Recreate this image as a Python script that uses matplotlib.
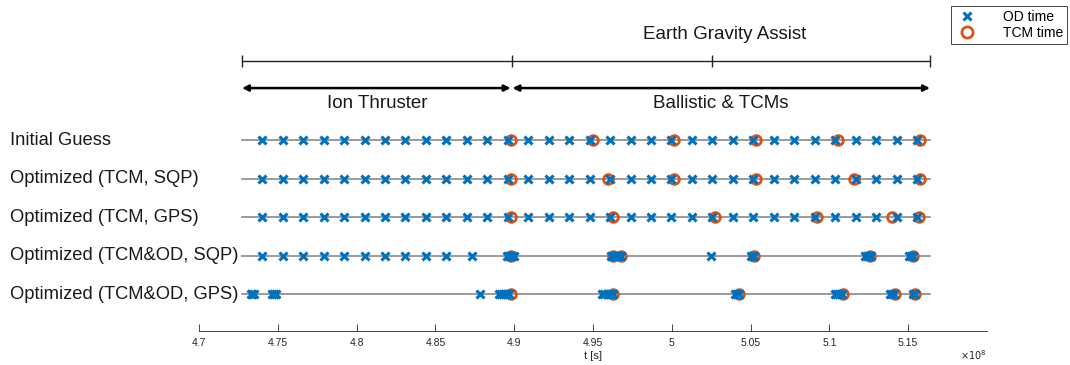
import matplotlib.pyplot as plt
from matplotlib.transforms import blended_transform_factory

plt.rcParams['font.family'] = ['Liberation Sans', 'DejaVu Sans']

# all epochs in units of 1e8 s
rows = ['Initial Guess', 'Optimized (TCM, SQP)', 'Optimized (TCM, GPS)',
        'Optimized (TCM&OD, SQP)', 'Optimized (TCM&OD, GPS)']

t_start = 4.7273
t_switch = 4.8989   # end of ion thrusting
t_swingby = 5.0255  # Earth gravity assist
t_end = 5.1638

# regular 15-day OD schedule
od_regular = [4.7402, 4.7531, 4.7661, 4.7791, 4.7921, 4.8051, 4.8181, 4.8310,
              4.8440, 4.8570, 4.8700, 4.8830, 4.8960, 4.9089, 4.9219, 4.9349,
              4.9479, 4.9609, 4.9738, 4.9868, 4.9998, 5.0128, 5.0258, 5.0388,
              5.0517, 5.0647, 5.0777, 5.0907, 5.1037, 5.1166, 5.1296, 5.1426,
              5.1556]
od_sqp = [4.7402, 4.7531, 4.7661, 4.7791, 4.7921, 4.8051, 4.8181, 4.8310,
          4.8440, 4.8570, 4.8734, 4.8955, 4.8966, 4.8977, 4.8988, 4.8998,
          4.9615, 4.9628, 4.9641, 4.9654, 4.9667, 4.9680, 5.0249, 5.0503,
          5.0513, 5.0524, 5.1228, 5.1240, 5.1252, 5.1264, 5.1504, 5.1516,
          5.1528]
od_gps = [4.7327, 4.7339, 4.7352, 4.7463, 4.7476, 4.7489, 4.8783, 4.8905,
          4.8918, 4.8931, 4.8944, 4.8957, 4.8970, 4.9560, 4.9573, 4.9586,
          4.9599, 4.9612, 4.9625, 5.0404, 5.0416, 5.0427, 5.1038, 5.1051,
          5.1064, 5.1077, 5.1385, 5.1398, 5.1411, 5.1528, 5.1541]
od_times = [od_regular, od_regular, od_regular, od_sqp, od_gps]

tcm_times = [
    [4.8980, 4.9498, 5.0014, 5.0534, 5.1056, 5.1575],
    [4.8980, 4.9597, 5.0014, 5.0534, 5.1156, 5.1575],
    [4.8980, 4.9625, 5.0274, 5.0923, 5.1395, 5.1570],
    [4.8980, 4.9625, 4.9678, 5.0522, 5.1258, 5.1532],
    [4.8980, 4.9629, 5.0428, 5.1084, 5.1416, 5.1543],
]

xticks = [4.7, 4.75, 4.8, 4.85, 4.9, 4.95, 5.0, 5.05, 5.1, 5.15]

blue = '#0072BD'
orange = '#D95319'

fig = plt.figure(figsize=(10.7, 3.65), dpi=100)
ax = fig.add_axes([0.186, 0.0932, 0.7364, 0.8438])

handles = []
n = len(rows)
row_y = [n - i - 0.05 for i in range(n)]
for i, name in enumerate(rows):
    y = row_y[i]
    ax.plot([t_start, t_end], [y, y], color='#8a8a8a', lw=1.2, zorder=1)
    h_tcm, = ax.plot(tcm_times[i], [y] * len(tcm_times[i]), 'o', ms=7,
                     mfc='none', mec=orange, mew=2, zorder=2)
    h_od, = ax.plot(od_times[i], [y] * len(od_times[i]), 'x', ms=5.5,
                    mec=blue, mew=2.2, zorder=3)
    if i == 0:
        handles = [h_od, h_tcm]

# row names on the left edge of the figure
trans = blended_transform_factory(fig.transFigure, ax.transData)
for i, name in enumerate(rows):
    ax.text(10 / 1070, row_y[i], name, transform=trans, ha='left',
            va='center', fontsize=13.2, color='#1a1a1a', clip_on=False)

# mission phases
ybar = 7.0
ax.plot([t_start, t_end], [ybar, ybar], color='#222222', lw=1)
ax.plot([t_start, t_switch, t_swingby, t_end], [ybar] * 4, '|', color='#222222',
        ms=9, mew=1)
ax.text((t_start + t_end) / 2 + 0.088, 7.69, 'Earth Gravity Assist',
        ha='center', va='center', fontsize=13.5, color='#1a1a1a')

yarr = 6.31
for a, b in [(t_start, t_switch - 0.0012), (t_switch, t_end)]:
    ax.annotate('', xy=(b, yarr), xytext=(a, yarr),
                arrowprops=dict(arrowstyle='<|-|>', color='black', lw=1.8,
                                mutation_scale=9, shrinkA=0, shrinkB=0))
ax.text((t_start + t_switch) / 2, 5.9, 'Ion Thruster', ha='center', va='center',
        fontsize=13.5, color='#1a1a1a')
ax.text((t_switch + t_end) / 2, 5.9, 'Ballistic & TCMs', ha='center',
        va='center', fontsize=13.5, color='#1a1a1a')

ax.set_xlim(4.7, 5.2)
ax.set_ylim(0, 8)
ax.set_xticks(xticks)
ax.set_xticklabels(['%g' % t for t in xticks], fontsize=7.5, color='#262626')
ax.tick_params(axis='x', direction='in', length=5, width=0.6, color='#262626',
               pad=5)
ax.set_yticks([])
for s in ['top', 'left', 'right']:
    ax.spines[s].set_visible(False)
ax.spines['bottom'].set_color('#262626')
ax.spines['bottom'].set_linewidth(0.6)
ax.set_xlabel('t [s]', fontsize=8, color='#262626', labelpad=2)
ax.text(1.0, -0.078, r'$\times10^8$', transform=ax.transAxes, ha='right',
        va='center', fontsize=7, color='#262626')

leg = fig.legend(handles, ['OD time', 'TCM time'], loc='upper right',
                 bbox_to_anchor=(1067 / 1070, 1 - 6 / 365), fontsize=10,
                 frameon=True, fancybox=False, edgecolor='#262626',
                 borderaxespad=0, handlelength=1.7, handletextpad=1.7,
                 borderpad=0.3, labelspacing=0.1, framealpha=1,
                 markerscale=1.15)
leg.get_frame().set_linewidth(0.6)

fig.savefig('out.png', dpi=100)
